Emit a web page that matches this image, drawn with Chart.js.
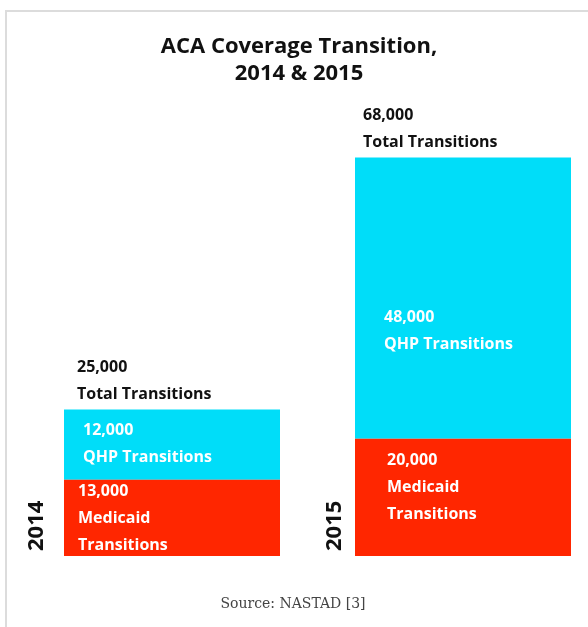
<!DOCTYPE html>
<html>
<head>
<meta charset="utf-8">
<script src="https://cdn.jsdelivr.net/npm/chart.js@4"></script>
<style>
  html, body { margin: 0; padding: 0; background: #fff; overflow: hidden; width: 588px; height: 627px; }
  #frame { position: absolute; left: 5px; top: 10px; width: 600px; height: 640px;
           border-top: 2px solid #dcdcdc; border-left: 2px solid #dcdcdc; }
  #c { position: absolute; left: 0; top: 0; }
</style>
</head>
<body>
<div id="frame"></div>
<canvas id="c" width="620" height="627"></canvas>
<script>
// ---- data ----
const years = ['2014', '2015'];
const medicaid = [13000, 20000];
const qhp = [12000, 48000];
const totals = [25000, 68000];
const titleLines = ['ACA Coverage Transition,', '2014 & 2015'];
const medicaidText = ['Medicaid', 'Transitions'];
const qhpText = ['QHP Transitions'];
const totalText = 'Total Transitions';
const sourceText = 'Source: NASTAD [3]';

const RED = '#ff2600';
const CYAN = '#00ddf9';

const fmt = v => v.toLocaleString('en-US');

const textPlugin = {
  id: 'textPlugin',
  afterDatasetsDraw(chart) {
    const ctx = chart.ctx;
    const mMeta = chart.getDatasetMeta(0);
    const qMeta = chart.getDatasetMeta(1);
    ctx.save();
    // title
    ctx.fillStyle = '#111';
    ctx.textAlign = 'center';
    ctx.textBaseline = 'middle';
    ctx.font = '700 22px "Open Sans"';
    ctx.fillText(titleLines[0], 299, 47);
    ctx.fillText(titleLines[1], 299, 74);

    const lineH = 27;
    const medOff = [12, 22];
    const qhpCenterOff = [-14, 19];
    const totXOff = [13, 8];
    const yearXOff = [27, 20];
    years.forEach((yr, i) => {
      const mb = mMeta.data[i];
      const qb = qMeta.data[i];
      const left = mb.x - mb.width / 2;
      // totals above bar
      ctx.textAlign = 'left';
      ctx.textBaseline = 'middle';
      ctx.fillStyle = '#111';
      ctx.font = '700 16px "Open Sans"';
      ctx.fillText(fmt(totals[i]), left + totXOff[i], qb.y - 15 - lineH);
      ctx.fillText(totalText, left + totXOff[i], qb.y - 15);
      // QHP label
      ctx.fillStyle = '#fff';
      let y = (qb.y + qb.base) / 2 + qhpCenterOff[i];
      const qx = left + 19 + (i ? 10 : 0);
      ctx.fillText(fmt(qhp[i]), qx, y);
      qhpText.forEach((t, k) => ctx.fillText(t, qx, y + lineH * (k + 1)));
      // Medicaid label
      y = mb.y + medOff[i];
      const mx = left + 14 + (i ? 18 : 0);
      ctx.fillText(fmt(medicaid[i]), mx, y);
      medicaidText.forEach((t, k) => ctx.fillText(t, mx, y + lineH * (k + 1)));
      // year label rotated
      ctx.save();
      ctx.translate(left - yearXOff[i], mb.base - 5);
      ctx.rotate(-Math.PI / 2);
      ctx.fillStyle = '#111';
      ctx.font = '700 22px "Open Sans"';
      ctx.textAlign = 'left';
      ctx.textBaseline = 'middle';
      ctx.fillText(yr, 0, 0);
      ctx.restore();
    });
    // source
    ctx.fillStyle = '#444';
    ctx.textAlign = 'center';
    ctx.textBaseline = 'middle';
    ctx.font = '14px "DejaVu Serif"';
    ctx.fillText(sourceText, 293, 604);
    ctx.restore();
  }
};

new Chart(document.getElementById('c'), {
  type: 'bar',
  data: {
    labels: years,
    datasets: [
      { label: 'Medicaid Transitions', data: medicaid, backgroundColor: RED, borderWidth: 0 },
      { label: 'QHP Transitions', data: qhp, backgroundColor: CYAN, borderWidth: 0 }
    ]
  },
  options: {
    responsive: false,
    animation: false,
    datasets: { bar: { categoryPercentage: 1, barPercentage: 216 / 291 } },
    layout: { padding: { left: 26.5, right: 11.5, top: 87.2, bottom: 71 } },
    plugins: { legend: { display: false }, tooltip: { enabled: false }, title: { display: false } },
    scales: {
      x: { stacked: true, display: false },
      y: { stacked: true, display: false, min: 0, max: 80000 }
    }
  },
  plugins: [textPlugin]
});
</script>
</body>
</html>
